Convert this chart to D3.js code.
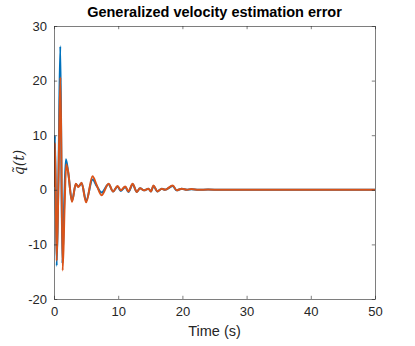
<!DOCTYPE html>
<html>
<head>
<meta charset="utf-8">
<script src="https://cdn.jsdelivr.net/npm/d3@7"></script>
<style>
  html, body { margin: 0; padding: 0; background: #fff; }
  svg { display: block; }
</style>
</head>
<body>
<svg id="chart" width="415" height="346"></svg>
<script>
// ---- data ----
const timeBlue = [0, 0.15, 0.42, 0.7, 0.98, 1.3, 1.6, 1.85, 2.2, 2.8, 3.4, 3.8, 4.3, 5.0, 6.0, 6.7, 7.4, 8.5, 9.2, 9.9, 10.4, 11.1, 11.6, 12.25, 12.9, 13.4, 14.0, 14.7, 15.1, 15.5, 16.1, 16.8, 17.3, 18.5, 19.1, 19.9, 20.7, 21.4, 22.5, 24, 26, 30, 35, 40, 45, 50];
const valBlue  = [1.0, 9.9, -13.9, 3.0, 26.3, -13.5, -2.0, 5.6, 3.3, -2.0, 1.0, 0.6, 1.2, -2.0, 1.9, 0.6, -0.5, 1.0, -0.3, 0.6, -0.2, 0.5, -0.4, 1.0, -0.4, 0.3, -0.1, 0.2, -0.3, 0.7, -0.3, 0.2, 0.0, 0.7, -0.1, 0.2, 0.0, 0.1, 0.0, 0.05, 0.0, 0.0, 0.0, 0.0, 0.0, 0.0];
const timeOrange = [0, 0.15, 0.42, 0.7, 1.0, 1.35, 1.65, 1.9, 2.2, 2.8, 3.4, 3.8, 4.3, 5.0, 6.0, 6.6, 7.4, 8.5, 9.2, 9.9, 10.4, 11.1, 11.6, 12.25, 12.9, 13.4, 14.0, 14.7, 15.1, 15.5, 16.1, 16.8, 17.3, 18.5, 19.1, 19.9, 20.7, 21.4, 22.5, 24, 26, 30, 35, 40, 45, 50];
const valOrange  = [0.5, 8.6, -13.0, 2.0, 20.6, -14.8, -3.0, 4.7, 3.3, -2.2, 1.1, 0.5, 1.3, -2.3, 2.5, 1.0, -1.0, 1.1, -0.3, 0.7, -0.1, 0.6, -0.3, 1.1, -0.4, 0.3, -0.1, 0.2, -0.3, 0.8, -0.3, 0.2, 0.0, 0.8, -0.1, 0.2, 0.0, 0.15, 0.0, 0.05, 0.0, 0.0, 0.0, 0.0, 0.0, 0.0];
const xTicks = [0, 10, 20, 30, 40, 50];
const yTicks = [-20, -10, 0, 10, 20, 30];
const titleText = "Generalized velocity estimation error";
const xLabel = "Time (s)";
const yLabel = "q\u0303(t)";

// ---- layout ----
const svg = d3.select("#chart");
const L = 54, R = 375, T = 26, B = 299;
const x = d3.scaleLinear().domain([0, 50]).range([L, R]);
const y = d3.scaleLinear().domain([-20, 30]).range([B, T]);
const axisColor = "#262626";
const fontFam = "Liberation Sans, Arial, Helvetica, sans-serif";

// white plot area
svg.append("rect").attr("x", L).attr("y", T).attr("width", R - L).attr("height", B - T).attr("fill", "#fff");

// clip
svg.append("clipPath").attr("id", "clip").append("rect")
  .attr("x", L).attr("y", T).attr("width", R - L).attr("height", B - T);

const line = d3.line().x(d => x(d[0])).y(d => y(d[1])).curve(d3.curveMonotoneX);
const g = svg.append("g").attr("clip-path", "url(#clip)");
g.append("path").datum(d3.zip(timeBlue, valBlue)).attr("d", line)
  .attr("fill", "none").attr("stroke", "#0072BD").attr("stroke-width", 2).attr("stroke-linejoin", "round");
g.append("path").datum(d3.zip(timeOrange, valOrange)).attr("d", line)
  .attr("fill", "none").attr("stroke", "#D95319").attr("stroke-width", 2).attr("stroke-linejoin", "round");

// axes (ticks inward, MATLAB style)
const tl = 3.2;
const xAxisB = d3.axisBottom(x).tickValues(xTicks).tickSizeInner(-tl).tickSizeOuter(0).tickPadding(8);
const xAxisT = d3.axisTop(x).tickValues(xTicks).tickSizeInner(-tl).tickSizeOuter(0).tickFormat("");
const yAxisL = d3.axisLeft(y).tickValues(yTicks).tickSizeInner(-tl).tickSizeOuter(0).tickPadding(7).tickFormat(d => String(d).replace("\u2212", "-"));
const yAxisR = d3.axisRight(y).tickValues(yTicks).tickSizeInner(-tl).tickSizeOuter(0).tickFormat("");

function style(sel) {
  sel.selectAll("path.domain").attr("stroke", axisColor).attr("stroke-width", 0.6);
  sel.selectAll(".tick line").attr("stroke", axisColor).attr("stroke-width", 0.6);
  sel.selectAll(".tick text").attr("fill", axisColor).attr("font-family", fontFam).attr("font-size", 13);
}
svg.append("g").attr("transform", `translate(0,${B})`).call(xAxisB).call(style);
svg.append("g").attr("transform", `translate(0,${T})`).call(xAxisT).call(style);
svg.append("g").attr("transform", `translate(${L},0)`).call(yAxisL).call(style);
svg.append("g").attr("transform", `translate(${R},0)`).call(yAxisR).call(style);

// title
svg.append("text").attr("x", (L + R) / 2).attr("y", 17).attr("text-anchor", "middle")
  .attr("font-family", fontFam).attr("font-weight", "bold").attr("font-size", 14.5).attr("fill", "#000")
  .text(titleText);

// x label
svg.append("text").attr("x", (L + R) / 2).attr("y", 336).attr("text-anchor", "middle")
  .attr("font-family", fontFam).attr("font-size", 14.5).attr("fill", axisColor)
  .text(xLabel);

// y label
svg.append("text").attr("transform", `translate(24,${(T + B) / 2}) rotate(-90)`).attr("text-anchor", "middle")
  .attr("font-family", "DejaVu Serif, Liberation Serif, serif").attr("font-style", "italic").attr("font-size", 14).attr("fill", axisColor)
  .text(yLabel);
</script>
</body>
</html>
